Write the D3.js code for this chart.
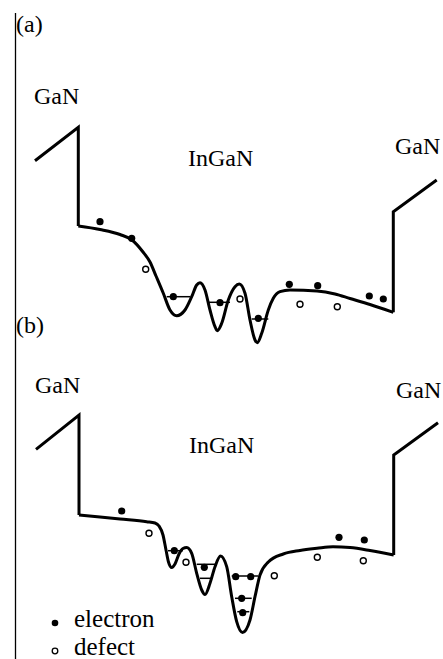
<!DOCTYPE html>
<html>
<head>
<meta charset="utf-8">
<script src="https://cdn.jsdelivr.net/npm/d3@7"></script>
<style>
body { margin: 0; background: #fff; }
</style>
</head>
<body>
<svg width="443" height="659" id="content"></svg>
<script>
// position in nm, energy in arbitrary units

// panel (a)
var barrierLeftA = [[0, 18.93], [4.33, 22.27], [4.33, 12.4]];
var barrierRightA = [[35.83, 3.77], [35.83, 13.83], [40.17, 17.0]];
var wellA = [
  [4.33, 12.4], [6.5, 12.05], [8.5, 11.55], [9.7, 11.0], [10.8, 9.8], [11.5, 8.8],
  [12.1, 7.4], [12.83, 5.67], [13.5, 4.0], [14.17, 3.43], [15.0, 4.0], [15.67, 5.33],
  [16.17, 6.5], [16.5, 6.73], [17.0, 6.0], [17.5, 4.0], [18.0, 2.33], [18.23, 1.93],
  [18.67, 2.67], [19.33, 5.0], [20.0, 6.33], [20.43, 6.6], [21.0, 5.67], [21.5, 3.0],
  [22.0, 1.0], [22.23, 0.73], [22.67, 1.67], [23.33, 4.0], [23.83, 5.17], [24.5, 5.83],
  [25.5, 6.0], [28.2, 5.9], [30.0, 5.6], [31.5, 5.15], [33.5, 4.55], [35.83, 3.77]
];
var levelsA = [[13.17, 15.5, 5.33], [17.3, 19.5, 4.77], [21.67, 23.33, 3.1]];
var electronsA = [
  [6.5, 12.83], [9.67, 11.17], [13.83, 5.33], [18.5, 4.73], [22.33, 3.17],
  [25.43, 6.57], [28.27, 6.43], [33.43, 5.4], [34.83, 5.1]
];
var defectsA = [[11.07, 8.07], [20.5, 5.1], [26.5, 4.57], [30.23, 4.33]];

// panel (b)
var barrierLeftB = [[0.1, 19.07], [4.4, 22.5], [4.4, 12.5]];
var barrierRightB = [[35.87, 8.5], [35.87, 18.5], [40.3, 21.73]];
var wellB = [
  [4.4, 12.5], [6.5, 12.3], [8.5, 12.1], [11.17, 11.83], [12.0, 11.7], [12.4, 11.4],
  [12.8, 10.5], [13.1, 9.0], [13.35, 7.8], [13.67, 7.25], [14.0, 7.6], [14.4, 8.6],
  [14.8, 9.15], [15.17, 9.25], [15.67, 8.67], [16.17, 6.67], [16.67, 5.0], [17.0, 4.55],
  [17.5, 5.67], [18.0, 7.33], [18.55, 8.4], [19.17, 7.33], [19.67, 4.33], [20.17, 1.83],
  [20.75, 0.75], [21.5, 2.0], [22.0, 4.33], [22.5, 6.5], [23.33, 7.8], [24.83, 8.6],
  [26.5, 8.95], [28.2, 9.17], [29.8, 9.33], [31.5, 9.25], [33.5, 8.95], [35.87, 8.5]
];
var levelsB = [
  [13.3, 14.8, 8.93], [16.17, 18.0, 7.57], [16.5, 17.67, 6.17],
  [19.67, 22.33, 6.4], [20.0, 21.67, 4.17], [20.23, 21.43, 2.83]
];
var electronsB = [
  [8.67, 12.9], [13.93, 8.93], [16.93, 7.27], [20.07, 6.33], [21.57, 6.33],
  [20.67, 4.17], [20.77, 2.73], [30.4, 10.27], [32.93, 10.0]
];
var defectsB = [[11.4, 10.67], [15.1, 7.77], [23.93, 6.43], [28.23, 8.27], [32.83, 7.93]];

var serif = "'Liberation Serif', 'DejaVu Serif', 'Times New Roman', serif";

var svg = d3.select("svg");

var x = d3.scaleLinear().domain([0, 40]).range([35, 435]);
var yA = d3.scaleLinear().domain([0, 35]).range([350, 0]);
var yB = d3.scaleLinear().domain([0, 35]).range([640, 290]);

// left frame line
svg.append("line")
  .attr("x1", 15.5).attr("x2", 15.5)
  .attr("y1", 13).attr("y2", 659)
  .attr("stroke", "#000").attr("stroke-width", 1.3);

function panel(y, p) {
  var g = svg.append("g");

  var straight = d3.line().x(function(d) { return x(d[0]); }).y(function(d) { return y(d[1]); });
  var smooth = d3.line().curve(d3.curveMonotoneX)
    .x(function(d) { return x(d[0]); }).y(function(d) { return y(d[1]); });

  g.selectAll(".barrier")
    .data([p.left, p.right])
    .enter().append("path")
    .attr("class", "barrier")
    .attr("d", straight)
    .attr("fill", "none").attr("stroke", "#000")
    .attr("stroke-width", 3).attr("stroke-linejoin", "miter");

  g.append("path")
    .attr("d", smooth(p.well))
    .attr("fill", "none").attr("stroke", "#000").attr("stroke-width", 3);

  g.selectAll(".level")
    .data(p.levels)
    .enter().append("line")
    .attr("class", "level")
    .attr("x1", function(d) { return x(d[0]); })
    .attr("x2", function(d) { return x(d[1]); })
    .attr("y1", function(d) { return y(d[2]); })
    .attr("y2", function(d) { return y(d[2]); })
    .attr("stroke", "#000").attr("stroke-width", 1.5);

  g.selectAll(".defect")
    .data(p.defects)
    .enter().append("circle")
    .attr("class", "defect")
    .attr("cx", function(d) { return x(d[0]); })
    .attr("cy", function(d) { return y(d[1]); })
    .attr("r", 3)
    .attr("fill", "#fff").attr("stroke", "#000").attr("stroke-width", 1.4);

  g.selectAll(".electron")
    .data(p.electrons)
    .enter().append("circle")
    .attr("class", "electron")
    .attr("cx", function(d) { return x(d[0]); })
    .attr("cy", function(d) { return y(d[1]); })
    .attr("r", 3.6)
    .attr("fill", "#000");

  g.selectAll(".label")
    .data(p.labels)
    .enter().append("text")
    .attr("class", "label")
    .attr("x", function(d) { return d[1]; })
    .attr("y", function(d) { return d[2]; })
    .attr("font-family", serif)
    .attr("font-size", 24)
    .text(function(d) { return d[0]; });
}

panel(yA, {
  left: barrierLeftA, right: barrierRightA, well: wellA, levels: levelsA,
  electrons: electronsA, defects: defectsA,
  labels: [["(a)", 16, 32], ["GaN", 34, 104], ["InGaN", 188, 166], ["GaN", 395, 154]]
});

panel(yB, {
  left: barrierLeftB, right: barrierRightB, well: wellB, levels: levelsB,
  electrons: electronsB, defects: defectsB,
  labels: [["(b)", 16, 333], ["GaN", 35, 393], ["InGaN", 189, 453], ["GaN", 396, 398]]
});

// legend
var legend = svg.append("g");
legend.append("circle").attr("cx", 55).attr("cy", 623).attr("r", 3.3).attr("fill", "#000");
legend.append("circle").attr("cx", 55).attr("cy", 651).attr("r", 2.8)
  .attr("fill", "#fff").attr("stroke", "#000").attr("stroke-width", 1.3);
legend.append("text").attr("x", 74).attr("y", 627)
  .attr("font-family", serif).attr("font-size", 25).text("electron");
legend.append("text").attr("x", 74).attr("y", 655)
  .attr("font-family", serif).attr("font-size", 25).text("defect");
</script>
</body>
</html>
